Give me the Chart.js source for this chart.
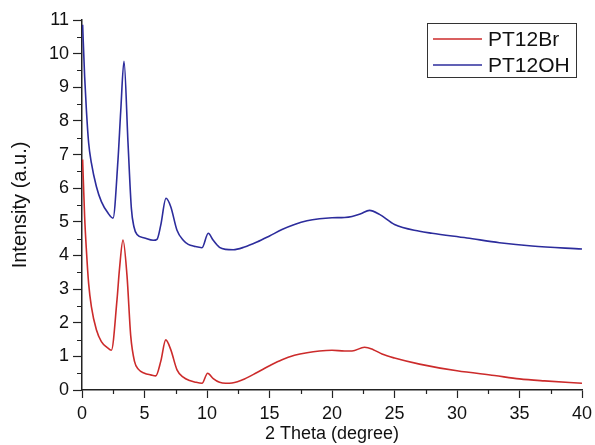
<!DOCTYPE html>
<html>
<head>
<meta charset="utf-8">
<script src="https://cdn.jsdelivr.net/npm/chart.js@4.4.1/dist/chart.umd.min.js"></script>
<style>
  html, body { margin: 0; padding: 0; background: #fff; }
  #wrap { width: 595px; height: 445px; }
</style>
</head>
<body>
<div id="wrap"><canvas id="xrd" width="595" height="445"></canvas></div>
<script>
// PT12Br (red)
const brTheta = [0.05, 0.21, 0.35, 0.53, 0.75, 1.15, 1.55, 2.0, 2.35, 2.8, 3.0, 3.28, 3.6, 3.9, 4.2, 4.5, 5.0, 5.5, 5.9, 6.3, 6.7, 7.1, 7.6, 8.1, 8.6, 9.0, 9.6, 10.05, 10.5, 11.0, 11.5, 12, 13, 14, 15, 16, 17, 18, 19, 20, 21, 21.6, 22.6, 23.3, 24, 25, 27, 30, 33, 35, 37, 40];
const brIntensity = [6.85, 5.16, 4.17, 3.17, 2.48, 1.79, 1.44, 1.27, 1.18, 2.68, 3.6, 4.46, 3.4, 1.6, 0.85, 0.62, 0.5, 0.45, 0.42, 0.85, 1.49, 1.2, 0.6, 0.38, 0.28, 0.24, 0.2, 0.5, 0.34, 0.23, 0.2, 0.21, 0.33, 0.52, 0.72, 0.9, 1.03, 1.11, 1.16, 1.18, 1.16, 1.16, 1.27, 1.2, 1.07, 0.95, 0.77, 0.57, 0.43, 0.33, 0.27, 0.2];

// PT12OH (blue)
const ohTheta = [0.05, 0.21, 0.35, 0.53, 0.75, 1.15, 1.55, 2.08, 2.48, 2.88, 3.1, 3.36, 3.68, 3.95, 4.15, 4.4, 5.0, 5.7, 6.0, 6.3, 6.72, 7.1, 7.6, 8.1, 8.5, 9.0, 9.6, 10.1, 10.5, 11.0, 11.5, 12.1, 13, 14, 15, 16, 17, 18, 19, 20, 21, 21.6, 22.3, 23, 23.8, 25, 27, 28, 30.8, 33.4, 36, 40];
const ohIntensity = [10.86, 9.33, 8.33, 7.35, 6.75, 6.05, 5.6, 5.26, 5.11, 6.85, 8.3, 9.77, 7.35, 5.4, 4.86, 4.62, 4.52, 4.45, 4.48, 4.9, 5.7, 5.45, 4.75, 4.45, 4.33, 4.27, 4.23, 4.66, 4.45, 4.24, 4.18, 4.17, 4.25, 4.4, 4.58, 4.77, 4.92, 5.03, 5.09, 5.12, 5.13, 5.16, 5.24, 5.34, 5.22, 4.92, 4.72, 4.66, 4.52, 4.38, 4.28, 4.19];

const seriesNames = ["PT12Br", "PT12OH"];
const xTicks = { min: 0, max: 40, step: 5 };
const yTicks = { min: 0, max: 11, step: 1 };

const toPoints = (xs, ys) => xs.map((x, i) => ({ x: x, y: ys[i] }));

const axisColor = "#222";
const fontFamily = "'Liberation Sans', Arial, sans-serif";

// white background
const bgPlugin = {
  id: "bg",
  beforeDraw(chart) {
    const ctx = chart.ctx;
    ctx.save();
    ctx.fillStyle = "#fff";
    ctx.fillRect(0, 0, chart.width, chart.height);
    ctx.restore();
  }
};

// minor ticks halfway between the major ones
const minorTicks = {
  id: "minorTicks",
  afterDraw(chart) {
    const ctx = chart.ctx;
    const xs = chart.scales.x, ys = chart.scales.y;
    ctx.save();
    ctx.strokeStyle = axisColor;
    ctx.lineWidth = 1.2;
    ctx.beginPath();
    for (let v = yTicks.min + yTicks.step / 2; v < yTicks.max; v += yTicks.step) {
      const p = Math.round(ys.getPixelForValue(v)) + 0.5;
      ctx.moveTo(xs.left - 5, p);
      ctx.lineTo(xs.left, p);
    }
    for (let v = xTicks.min + xTicks.step / 2; v < xTicks.max; v += xTicks.step) {
      const p = Math.round(xs.getPixelForValue(v)) + 0.5;
      ctx.moveTo(p, ys.bottom);
      ctx.lineTo(p, ys.bottom + 4);
    }
    ctx.stroke();
    ctx.restore();
  }
};

// boxed legend in the top right corner
const boxLegend = {
  id: "boxLegend",
  afterDraw(chart) {
    const ctx = chart.ctx;
    const x0 = 427, y0 = 23, w = 149, h = 54;
    ctx.save();
    ctx.strokeStyle = "#333";
    ctx.lineWidth = 1;
    ctx.strokeRect(x0 + 0.5, y0 + 0.5, w, h);
    ctx.font = "21px " + fontFamily;
    ctx.textBaseline = "middle";
    chart.data.datasets.forEach((ds, i) => {
      const yy = y0 + 16 + i * 26;
      ctx.strokeStyle = ds.borderColor;
      ctx.lineWidth = 1.6;
      ctx.beginPath();
      ctx.moveTo(x0 + 6, yy);
      ctx.lineTo(x0 + 55, yy);
      ctx.stroke();
      ctx.fillStyle = "#111";
      ctx.fillText(ds.label, x0 + 61, yy + 1);
    });
    ctx.restore();
  }
};

new Chart(document.getElementById("xrd"), {
  type: "line",
  data: {
    datasets: [
      {
        label: seriesNames[0],
        data: toPoints(brTheta, brIntensity),
        borderColor: "#cc2b2b",
        borderWidth: 1.6,
        pointRadius: 0,
        cubicInterpolationMode: "monotone",
        fill: false
      },
      {
        label: seriesNames[1],
        data: toPoints(ohTheta, ohIntensity),
        borderColor: "#2c2c9c",
        borderWidth: 1.6,
        pointRadius: 0,
        cubicInterpolationMode: "monotone",
        fill: false
      }
    ]
  },
  options: {
    responsive: false,
    animation: false,
    layout: { padding: { top: 20, right: 13, left: 0, bottom: 0 } },
    plugins: { legend: { display: false }, tooltip: { enabled: false } },
    scales: {
      x: {
        type: "linear",
        min: xTicks.min, max: xTicks.max,
        ticks: { stepSize: xTicks.step, color: "#111", padding: 5, font: { family: fontFamily, size: 18 } },
        grid: { drawOnChartArea: false, drawTicks: true, tickLength: 8, tickColor: axisColor, tickWidth: 1.2 },
        border: { display: true, color: axisColor, width: 1.5 },
        title: { display: true, text: "2 Theta (degree)", color: "#111", padding: { top: 0, bottom: 0 }, font: { family: fontFamily, size: 18 } },
        afterFit(scale) { scale.height = 55; scale.paddingRight = 0; scale.paddingLeft = 0; }
      },
      y: {
        min: yTicks.min, max: yTicks.max,
        ticks: { stepSize: yTicks.step, color: "#111", padding: 4, font: { family: fontFamily, size: 18 } },
        grid: { drawOnChartArea: false, drawTicks: true, tickLength: 9, tickColor: axisColor, tickWidth: 1.2 },
        border: { display: true, color: axisColor, width: 1.5 },
        title: { display: true, text: "Intensity (a.u.)", color: "#111", padding: { top: 8, bottom: 0 }, font: { family: fontFamily, size: 20 } },
        afterFit(scale) { scale.width = 82; scale.paddingTop = 0; scale.paddingBottom = 0; }
      }
    }
  },
  plugins: [bgPlugin, minorTicks, boxLegend]
});
</script>
</body>
</html>
